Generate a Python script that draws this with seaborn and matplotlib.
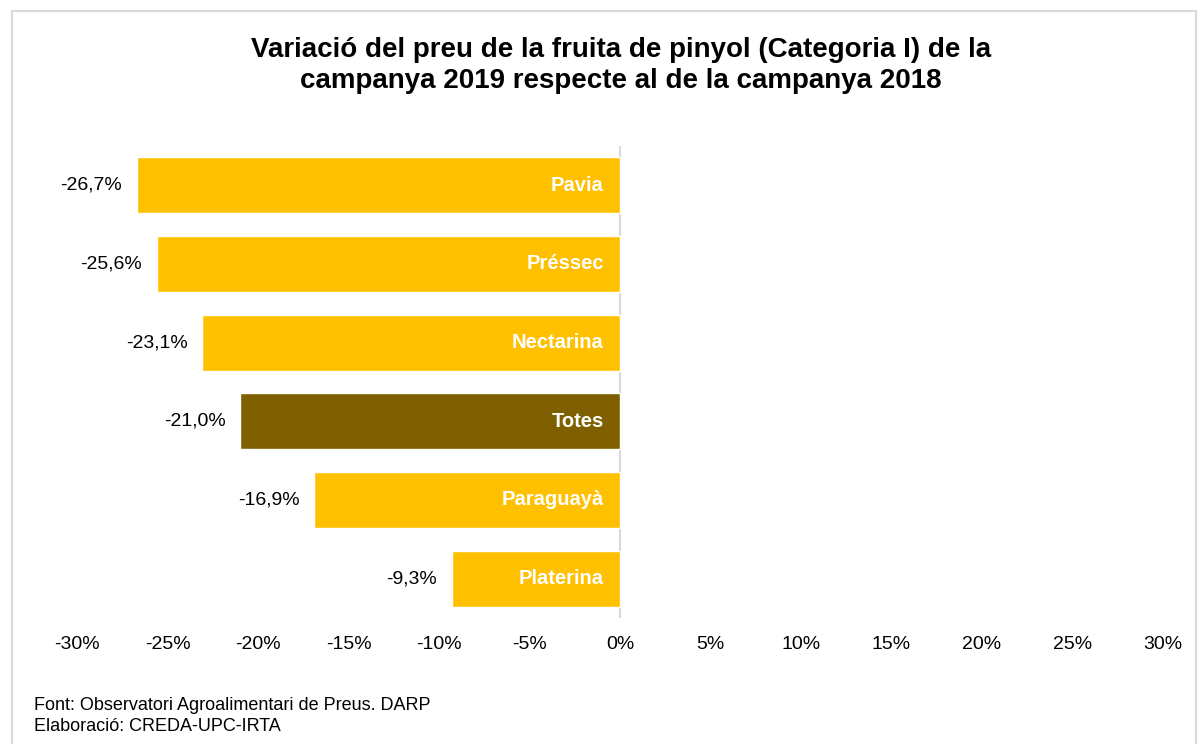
import seaborn as sns
import pandas as pd
import matplotlib.pyplot as plt
from matplotlib.patches import Rectangle

fruits = ["Pavia", "Préssec", "Nectarina", "Totes", "Paraguayà", "Platerina"]
variation = [-26.7, -25.6, -23.1, -21.0, -16.9, -9.3]
bar_colors = ["#FFC000", "#FFC000", "#FFC000", "#7F6000", "#FFC000", "#FFC000"]
ticks = [-30, -25, -20, -15, -10, -5, 0, 5, 10, 15, 20, 25, 30]

df = pd.DataFrame({"fruit": fruits, "var": variation})

sns.set_theme(style="white")
plt.rcParams['font.family'] = ['Liberation Sans', 'DejaVu Sans']
plt.rcParams['text.color'] = 'black'
plt.rcParams['xtick.color'] = 'black'

fig = plt.figure(figsize=(11.98, 7.44), dpi=100)
ax = fig.add_axes([0.0643, 0.1694, 0.9065, 0.6344])

sns.barplot(data=df, x="var", y="fruit", hue="fruit", palette=bar_colors,
            orient="h", width=0.71, legend=False, ax=ax, saturation=1)

ax.set_xlim(-30, 30)
ax.set_xticks(ticks)
ax.set_xticklabels([f"{t}%" for t in ticks], fontsize=14)
ax.tick_params(axis="x", length=0, pad=13)
ax.set_yticks([])
ax.set_xlabel("")
ax.set_ylabel("")
for s in ax.spines.values():
    s.set_visible(False)
ax.axvline(0, color="#d9d9d9", lw=1.5, zorder=0)

for i, (f, v) in enumerate(zip(fruits, variation)):
    ax.text(v - 0.8, i, f"{v:.1f}%".replace(".", ","), ha="right", va="center", fontsize=14)
    ax.text(-0.9, i, f, ha="right", va="center", fontsize=14.5,
            color="white", fontweight="bold")

fig.text(0.518, 0.912, "Variació del preu de la fruita de pinyol (Categoria I) de la\n"
         "campanya 2019 respecte al de la campanya 2018",
         ha="center", va="center", fontsize=20, fontweight="bold", linespacing=1.25)

fig.text(0.028, 0.046, "Font: Observatori Agroalimentari de Preus. DARP", fontsize=13)
fig.text(0.028, 0.018, "Elaboració: CREDA-UPC-IRTA", fontsize=13)

fig.patches.append(Rectangle((0.010, -0.01), 0.988, 0.995, transform=fig.transFigure,
                             fill=False, edgecolor="#d9d9d9", lw=1.5))

fig.savefig("out.png", dpi=100)
